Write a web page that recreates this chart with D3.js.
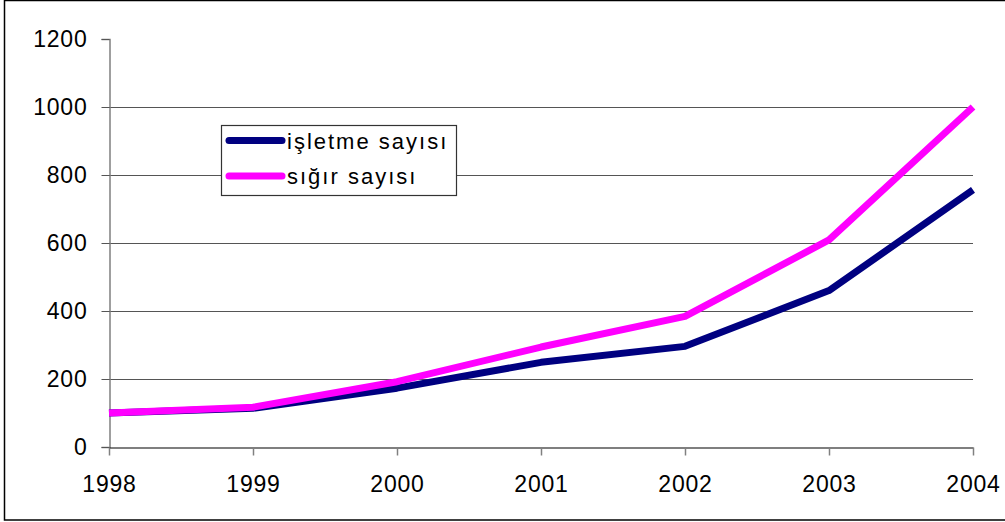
<!DOCTYPE html>
<html>
<head>
<meta charset="utf-8">
<script src="https://cdn.jsdelivr.net/npm/d3@7"></script>
<style>
  body { margin: 0; background: #fff; }
  svg { display: block; font-family: "Liberation Sans", Arial, sans-serif; }
</style>
</head>
<body>
<div id="chart"></div>
<script>
const years = [1998, 1999, 2000, 2001, 2002, 2003, 2004];
const isletme = [100, 114, 173, 249, 296, 460, 756];
const sigir = [100, 117, 192, 294, 384, 609, 1000];
const yTicks = [0, 200, 400, 600, 800, 1000, 1200];
const seriesNames = ["işletme sayısı", "sığır sayısı"];
const seriesColors = ["#000080", "#ff00ff"];

const width = 1005, height = 522;
const margin = { top: 39, left: 109, right: 32, bottom: 75 };

const svg = d3.select("#chart").append("svg")
  .attr("width", width)
  .attr("height", height);

// outer frame
svg.append("rect")
  .attr("x", 4.5).attr("y", 0.5)
  .attr("width", width + 10).attr("height", 519.5)
  .attr("fill", "none").attr("stroke", "#000").attr("stroke-width", 1.5);

const x = d3.scalePoint()
  .domain(years)
  .range([margin.left, width - margin.right]);

const y = d3.scaleLinear()
  .domain([0, 1200])
  .range([height - margin.bottom, margin.top]);

// gridlines
svg.append("g")
  .selectAll("line")
  .data(yTicks.filter(d => d > 0 && d < 1200))
  .join("line")
  .attr("x1", margin.left).attr("x2", width - margin.right)
  .attr("y1", d => Math.round(y(d)) + 0.5).attr("y2", d => Math.round(y(d)) + 0.5)
  .attr("stroke", "#555").attr("stroke-width", 1);

// y axis
const yAxis = svg.append("g")
  .attr("transform", `translate(${margin.left + 0.5},0)`)
  .call(d3.axisLeft(y).tickValues(yTicks).tickFormat(d3.format("d"))
    .tickSize(8).tickPadding(14));
yAxis.select(".domain").attr("stroke", "#808080").attr("stroke-width", 1.5);
yAxis.selectAll(".tick line").attr("stroke", "#555");
yAxis.selectAll("text").attr("font-size", 23).attr("fill", "#000")
  .attr("letter-spacing", 0.8)
  .attr("font-family", "Liberation Sans, Arial, sans-serif");

// x axis
const xAxis = svg.append("g")
  .attr("transform", `translate(0,${Math.round(y(0)) + 0.5})`)
  .call(d3.axisBottom(x).tickFormat(d3.format("d"))
    .tickSize(8).tickPadding(20).tickSizeOuter(0));
xAxis.select(".domain").attr("stroke", "#000").attr("stroke-width", 1.2);
xAxis.selectAll(".tick line").attr("stroke", "#808080").attr("stroke-width", 1.5);
xAxis.selectAll("text").attr("font-size", 23).attr("fill", "#000")
  .attr("letter-spacing", 0.8)
  .attr("font-family", "Liberation Sans, Arial, sans-serif");

// lines
const line = d3.line()
  .x((d, i) => x(years[i]))
  .y(d => y(d));

[isletme, sigir].forEach((vals, k) => {
  svg.append("path")
    .datum(vals)
    .attr("fill", "none")
    .attr("stroke", seriesColors[k])
    .attr("stroke-width", 7)
    .attr("stroke-linejoin", "round")
    .attr("d", line);
});

// legend
const legend = svg.append("g").attr("transform", "translate(221,125)");
legend.append("rect")
  .attr("x", 0.5).attr("y", 0.5)
  .attr("width", 235).attr("height", 70)
  .attr("fill", "#fff").attr("stroke", "#333").attr("stroke-width", 1.2);

seriesNames.forEach((name, k) => {
  const ly = 15.5 + k * 35.5;
  legend.append("line")
    .attr("x1", 8).attr("x2", 61)
    .attr("y1", ly).attr("y2", ly)
    .attr("stroke", seriesColors[k])
    .attr("stroke-width", 7)
    .attr("stroke-linecap", "round");
  legend.append("text")
    .attr("x", 66).attr("y", ly + 8)
    .attr("font-size", 22)
    .attr("letter-spacing", 2)
    .text(name);
});
</script>
</body>
</html>
